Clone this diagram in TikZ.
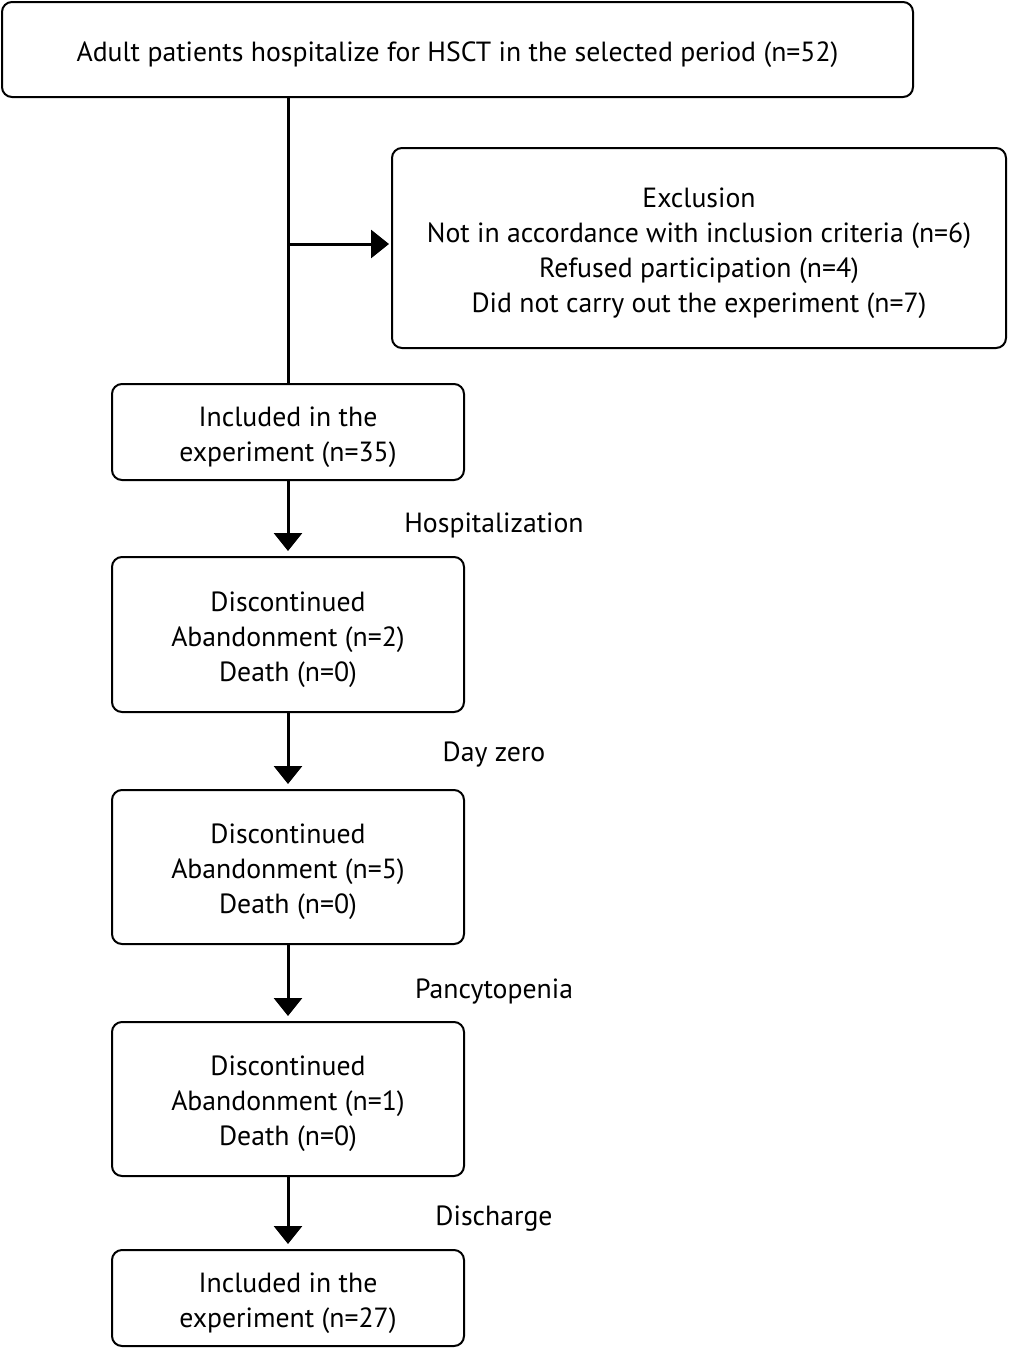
\documentclass[tikz,border=0pt]{standalone}
\usepackage{fontspec}
\setmainfont{PT Sans}
\usetikzlibrary{arrows.meta}
\newcommand\myupstrut{\rule{0pt}{22pt}}
\begin{document}
\begin{tikzpicture}[x=0.75pt,y=-0.75pt,
  box/.style={draw=black,line width=1.5pt,rounded corners=7.5pt,inner sep=0pt,align=center,font=\fontsize{20.8pt}{26.25pt}\selectfont},
  lbl/.style={inner sep=0pt,font=\fontsize{20.8pt}{26.25pt}\selectfont},
  conn/.style={line width=2.25pt},
  arr/.style={conn,-{Triangle[width=21pt,length=13.5pt]}}]
\useasboundingbox (0,0) rectangle (1008,1349);
\node[box,minimum width=683.25pt,minimum height=71.25pt] (top) at (457.5,49.5) {\myupstrut Adult patients hospitalize for HSCT in the selected period (n=52)};
\node[box,minimum width=460.5pt,minimum height=150pt] (excl) at (699,248) {\myupstrut Exclusion\\Not in accordance with inclusion criteria (n=6)\\Refused participation (n=4)\\Did not carry out the experiment (n=7)};
\node[box,minimum width=264pt,minimum height=72pt] (inc) at (288,432) {\myupstrut Included in the\\experiment (n=35)};
\node[box,minimum width=264pt,minimum height=116.25pt] (d1) at (288,634.5) {\myupstrut Discontinued\\Abandonment (n=2)\\Death (n=0)};
\node[box,minimum width=264pt,minimum height=115.5pt] (d2) at (288,867) {\myupstrut Discontinued\\Abandonment (n=5)\\Death (n=0)};
\node[box,minimum width=264pt,minimum height=115.5pt] (d3) at (288,1099) {\myupstrut Discontinued\\Abandonment (n=1)\\Death (n=0)};
\node[box,minimum width=264pt,minimum height=72pt] (fin) at (288,1298) {\myupstrut Included in the\\experiment (n=27)};
\node[lbl] (l1) at (494,525) {Hospitalization};
\node[lbl] (l2) at (494,755) {Day zero};
\node[lbl] (l3) at (494,992) {Pancytopenia};
\node[lbl] (l4) at (494,1219) {Discharge};
\coordinate (j) at (288,244);
\draw[conn] (top.south -| inc.north) -- (inc.north);
\draw[arr,shorten >=1.5pt] (j) -- (j -| excl.west);
\draw[arr,shorten >=3.75pt] (inc) -- (d1);
\draw[arr,shorten >=3.75pt] (d1) -- (d2);
\draw[arr,shorten >=3.75pt] (d2) -- (d3);
\draw[arr,shorten >=3.75pt] (d3) -- (fin);
\end{tikzpicture}
\end{document}
